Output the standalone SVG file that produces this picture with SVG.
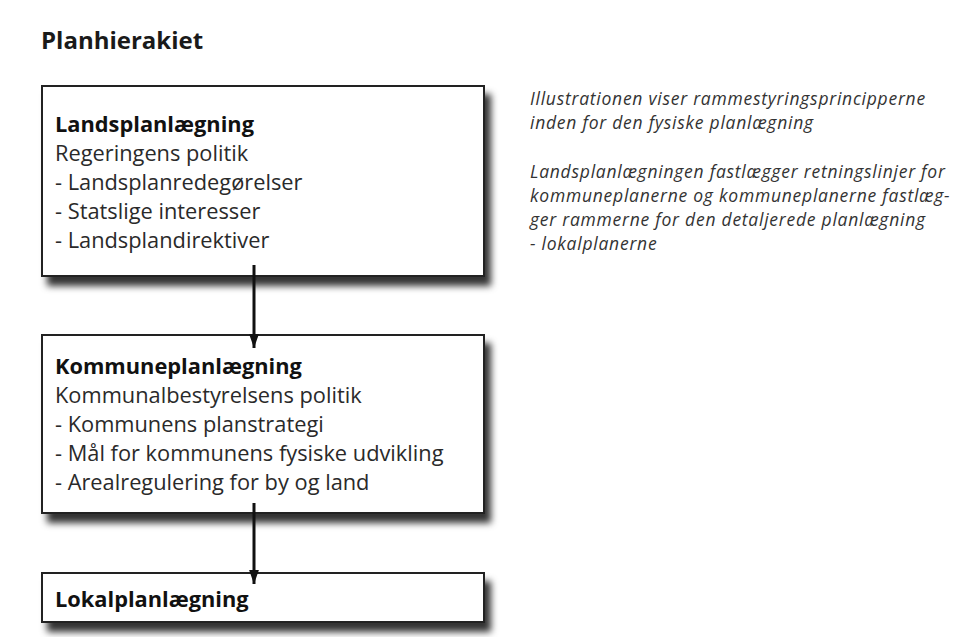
<svg xmlns="http://www.w3.org/2000/svg" width="970" height="637" viewBox="0 0 970 637">
<style>
.box{fill:#fff;stroke:#222;stroke-width:2}
.t{font-family:"Open Sans","Liberation Sans",sans-serif;font-size:21.8px;fill:#2a2a2a}
.b{font-weight:bold;fill:#111}
.title{font-family:"Open Sans","Liberation Sans",sans-serif;font-size:24px;font-weight:bold;fill:#1a1a1a}
.note{font-family:"Open Sans","Liberation Sans",sans-serif;font-size:17.5px;letter-spacing:0.75px;font-style:italic;fill:#333}
.con{stroke:#111;stroke-width:3;fill:none}
</style>
<defs>
<filter id="sh" x="-10%" y="-20%" width="130%" height="160%">
<feDropShadow dx="6" dy="9" stdDeviation="3.5" flood-color="#000" flood-opacity="0.8"/>
</filter>
<marker id="ah" markerWidth="14" markerHeight="20" refX="20" refY="7" orient="auto" markerUnits="userSpaceOnUse" viewBox="0 0 20 14">
<path d="M0,0 L20,7 L0,14 z" fill="#111"/>
</marker>
</defs>
<rect width="970" height="637" fill="#fff"/>
<text class="title" x="41" y="49">Planhierakiet</text>
<g id="node-landsplan">
<rect class="box" x="42" y="86" width="442" height="190" filter="url(#sh)"/>
<text class="t b" x="55" y="132">Landsplanlægning</text>
<text class="t" x="55" y="161">Regeringens politik</text>
<text class="t" x="55" y="190">- Landsplanredegørelser</text>
<text class="t" x="55" y="219">- Statslige interesser</text>
<text class="t" x="55" y="248">- Landsplandirektiver</text>
</g>
<g id="node-kommuneplan">
<rect class="box" x="42" y="335" width="442" height="178" filter="url(#sh)"/>
<text class="t b" x="55" y="374">Kommuneplanlægning</text>
<text class="t" x="55" y="403">Kommunalbestyrelsens politik</text>
<text class="t" x="55" y="432">- Kommunens planstrategi</text>
<text class="t" x="55" y="461">- Mål for kommunens fysiske udvikling</text>
<text class="t" x="55" y="490">- Arealregulering for by og land</text>
</g>
<g id="node-lokalplan">
<rect class="box" x="42" y="573" width="442" height="49" filter="url(#sh)"/>
<text class="t b" x="55" y="607">Lokalplanlægning</text>
</g>
<g id="connectors">
<line class="con" x1="254" y1="265" x2="254" y2="348" marker-end="url(#ah)"/>
<line class="con" x1="254" y1="503" x2="254" y2="584" marker-end="url(#ah)"/>
</g>
<g id="note">
<text class="note" x="530" y="105">Illustrationen viser rammestyringsprincipperne</text>
<text class="note" x="530" y="129">inden for den fysiske planlægning</text>
<text class="note" x="530" y="178">Landsplanlægningen fastlægger retningslinjer for</text>
<text class="note" x="530" y="202">kommuneplanerne og kommuneplanerne fastlæg-</text>
<text class="note" x="530" y="226">ger rammerne for den detaljerede planlægning</text>
<text class="note" x="530" y="250">- lokalplanerne</text>
</g>
</svg>
